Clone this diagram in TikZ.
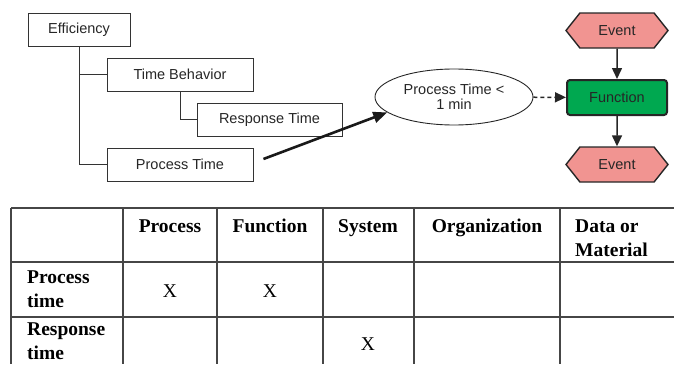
\documentclass[tikz,border=0pt]{standalone}
\usepackage{fontspec}
\setmainfont{Liberation Serif}
\newfontfamily\arialfont{Liberation Sans}
\usetikzlibrary{arrows.meta,shapes.geometric,shapes.symbols}
\definecolor{eventred}{RGB}{241,148,145}
\definecolor{funcgreen}{RGB}{0,168,80}
\definecolor{gridgray}{RGB}{70,70,70}
\begin{document}
\begin{tikzpicture}[x=1pt,y=-1pt,
  sans/.style={font=\arialfont\fontsize{14.5}{16}\selectfont,text=black!85},
  treebox/.style={sans,draw=black!80,line width=0.9pt,minimum height=33pt,inner sep=0pt},
  eventbox/.style={sans,signal,signal to=east and west,signal pointer angle=103,draw=black!85,line width=1.4pt,fill=eventred,minimum width=102pt,minimum height=35pt,inner sep=0pt},
  funcbox/.style={sans,draw=black!85,line width=2pt,rounded corners=3pt,fill=funcgreen,minimum width=100pt,minimum height=35pt,inner sep=0pt},
  flow/.style={-{Triangle[length=11pt,width=10pt]},line width=1.5pt,black!85},
  head/.style={font=\fontsize{19.5}{24}\selectfont\bfseries,inner sep=0pt,anchor=base},
  cell/.style={font=\fontsize{19.5}{24}\selectfont,inner sep=0pt,anchor=base}]
  \useasboundingbox (0,0) rectangle (674,364);
  \node[treebox,minimum width=102pt] (eff) at (79,30) {Efficiency};
  \node[treebox,minimum width=146pt] (tb) at (180,74.5) {Time Behavior};
  \node[treebox,minimum width=146pt] (pt) at (180,164.5) {Process Time};
  \node[treebox,minimum width=145pt] (rt) at (269.5,119.5) {Response Time};
  \draw[black!80,line width=0.9pt] (eff.south) |- (tb.west);
  \draw[black!80,line width=0.9pt] (eff.south) |- (pt.west);
  \draw[black!80,line width=0.9pt] (tb.south) |- (rt.west);
  \node[sans,ellipse,draw=black!85,line width=0.9pt,minimum width=158pt,minimum height=56pt,inner sep=0pt,align=center,font=\arialfont\fontsize{14.5}{15}\selectfont] (pe) at (454,97) {Process Time <\\1 min};
  \draw[-{Triangle[length=14pt,width=11pt]},line width=2.6pt,black!90] ([xshift=10pt,yshift=5.5pt]pt.east) -- (pe.193);
  \node[eventbox] (ev1) at (617,30.5) {Event};
  \node[funcbox] (fn) at (617,97.5) {Function};
  \node[eventbox] (ev2) at (617,164.5) {Event};
  \draw[flow] (ev1) -- (fn);
  \draw[flow] (fn) -- (ev2);
  \draw[flow,dash pattern=on 4pt off 3pt] (pe) -- (fn);
  \draw[gridgray,line width=1.4pt] (11,208) -- (674,208) (11,262) -- (674,262) (11,317) -- (674,317);
  \foreach \cx in {11,123,217,323,414,560}
    \draw[gridgray,line width=1.4pt] (\cx,208) -- (\cx,364);
  \node[head] (hproc) at (170,232) {Process};
  \node[head] (hfunc) at (270,232) {Function};
  \node[head] (hsys) at (368,232) {System};
  \node[head] (horg) at (487,232) {Organization};
  \node[head,anchor=base west,align=left] (hdata) at (575,256) {Data or\\Material};
  \node[head,anchor=base west,align=left] (rproc) at (27,307) {Process\\time};
  \node[head,anchor=base west,align=left] (rresp) at (27,359) {Response\\time};
  \node[cell] (x1) at (170,297) {X};
  \node[cell] (x2) at (270,297) {X};
  \node[cell] (x3) at (368,350) {X};
\end{tikzpicture}
\end{document}
